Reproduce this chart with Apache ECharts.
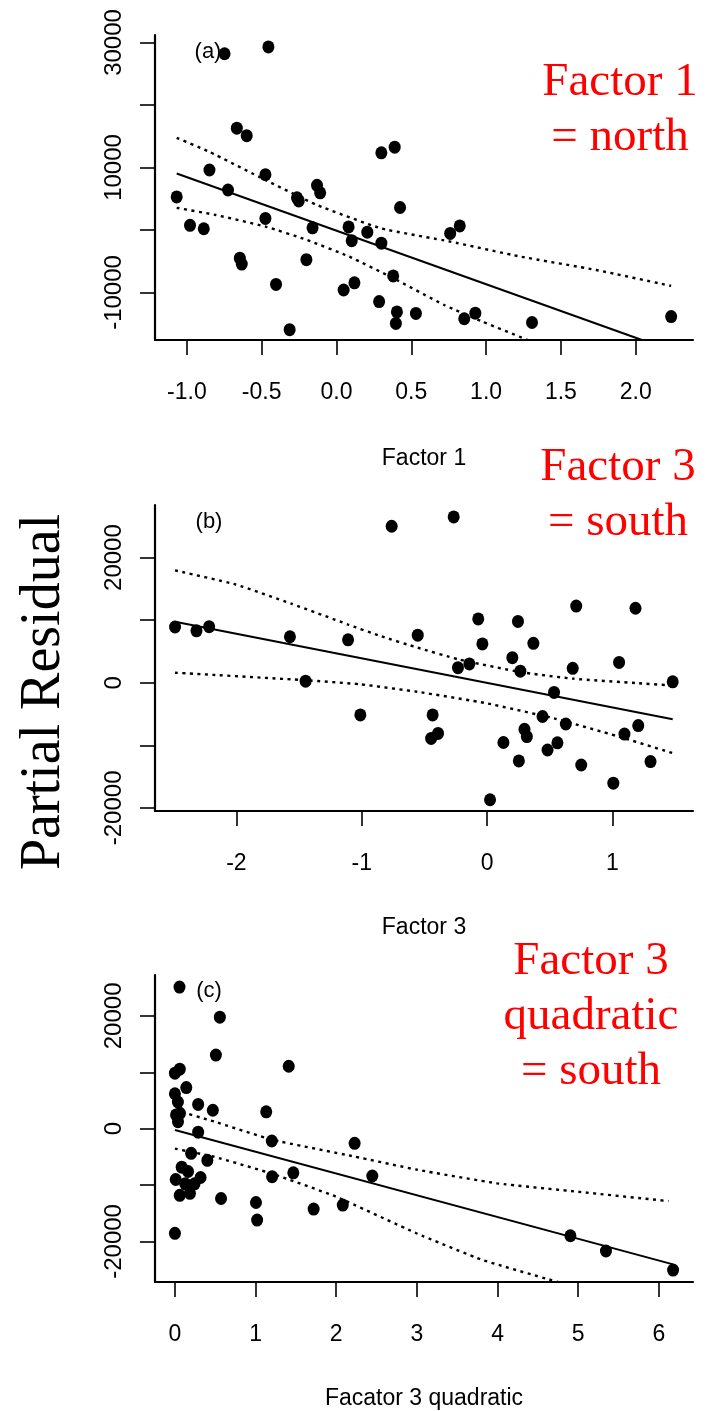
<!DOCTYPE html>
<html>
<head>
<meta charset="utf-8">
<script src="https://cdn.jsdelivr.net/npm/echarts@6/dist/echarts.min.js"></script>
<style>
    html, body { margin: 0; padding: 0; background: #fff; }
    #chart { width: 715px; height: 1411px; }
</style>
</head>
<body>
<div id="chart"></div>
<script>
    // (a) Factor 1
    const pointsA = [
        [-0.748, 28200], [-0.455, 29300], [-0.666, 16300], [-0.600, 15100], [0.300, 12350],
        [0.389, 13250], [-0.849, 9600], [-0.475, 8850], [-1.068, 5300], [-0.725, 6400],
        [-0.264, 5150], [-0.252, 4650], [-0.130, 7150], [-0.109, 5950], [0.425, 3600],
        [-0.475, 1850], [-0.979, 750], [-0.887, 200], [-0.160, 350], [0.081, 500],
        [0.102, -1700], [0.206, -350], [0.300, -2100], [0.760, -550], [0.824, 650],
        [-0.646, -4500], [-0.633, -5450], [-0.201, -4750], [-0.404, -8700], [0.048, -9600],
        [0.120, -8450], [0.379, -7350], [0.285, -11450], [0.404, -13100], [0.397, -14950],
        [0.531, -13350], [0.854, -14200], [0.928, -13300], [1.307, -14800], [2.237, -13850],
        [-0.313, -15950]
    ];
    const fitA = [[-1.068, 9050], [2.042, -17600]];
    const upperA = [[-1.068, 14750], [-0.849, 12500], [-0.475, 8000], [-0.130, 4000], [0.300, 250],
        [0.760, -1850], [1.228, -4250], [1.737, -6400], [2.237, -8950]];
    const lowerA = [[-1.068, 3550], [-0.806, 2400], [-0.475, 550], [-0.196, -1600], [0.084, -4250],
        [0.379, -7700], [0.720, -12000], [0.974, -14650], [1.279, -17600]];
    const xRangeA = [-1.213, 2.383];
    const yRangeA = [-17600, 31200];
    const xTicksA = [-1.0, -0.5, 0.0, 0.5, 1.0, 1.5, 2.0];
    const yTicksA = [30000, 20000, 10000, 0, -10000];
    const yLabelsA = [30000, 10000, -10000];

    // (b) Factor 3
    const pointsB = [
        [-2.490, 8900], [-2.319, 8300], [-2.218, 8950], [-1.573, 7350], [-1.448, 250],
        [-1.109, 6850], [-1.011, -5150], [-0.761, 25000], [-0.266, 26500], [-0.553, 7600],
        [-0.434, -5150], [-0.446, -8900], [-0.391, -8100], [-0.232, 2400], [-0.141, 3000],
        [-0.070, 10200], [-0.037, 6200], [0.024, -18700], [0.131, -9550], [0.202, 4000],
        [0.247, 9800], [0.266, 1850], [0.254, -12500], [0.299, -7450], [0.318, -8600],
        [0.370, 6300], [0.443, -5400], [0.483, -10750], [0.535, -1550], [0.562, -9600],
        [0.629, -6600], [0.684, 2300], [0.712, 12250], [0.752, -13150], [1.008, -16050],
        [1.054, 3250], [1.097, -8200], [1.185, 11900], [1.207, -6850], [1.305, -12600],
        [1.482, 150]
    ];
    const fitB = [[-2.490, 9750], [1.482, -5850]];
    const upperB = [[-2.490, 17950], [-2.007, 15700], [-1.564, 12650], [-1.109, 9300], [-0.857, 7500],
        [-0.553, 5600], [-0.232, 3750], [0.266, 1700], [0.684, 650], [1.185, -50], [1.482, -450]];
    const lowerB = [[-2.490, 1600], [-1.448, 400], [-1.014, -250], [-0.556, -1450], [0, -3300],
        [0.535, -5700], [1.033, -8500], [1.482, -11250]];
    const xRangeB = [-2.65, 1.644];
    const yRangeB = [-20500, 28400];
    const xTicksB = [-2, -1, 0, 1];
    const yTicksB = [20000, 10000, 0, -10000, -20000];
    const yLabelsB = [20000, 0, -20000];

    // (c) Factor 3 quadratic
    const pointsC = [
        [0.057, 25100], [0.557, 19770], [0.508, 13050], [1.411, 11070], [0.060, 10540],
        [0.0, 9830], [0.141, 7280], [0.0, 6190], [0.037, 4730], [0.288, 4290],
        [0.470, 3260], [1.132, 2990], [0.014, 2430], [0.062, 2720], [0.038, 1240],
        [0.288, -620], [1.201, -2190], [2.228, -2600], [0.201, -4380], [0.402, -5620],
        [0.084, -6830], [0.163, -7600], [0.010, -9020], [0.318, -8670], [0.128, -9790],
        [0.243, -9790], [0.060, -11830], [0.186, -11470], [1.205, -8520], [1.468, -7830],
        [2.447, -8400], [0.572, -12390], [1.005, -13100], [1.019, -16210], [1.720, -14260],
        [2.081, -13550], [0.0, -18575], [4.903, -19000], [5.344, -21700], [6.176, -25090]
    ];
    const fitC = [[0, -240], [6.176, -24080]];
    const upperC = [[0, 3300], [0.489, 1250], [1.203, -1950], [2.228, -4950], [3.007, -7300],
        [3.995, -9700], [5.002, -11200], [6.119, -12850]];
    const lowerC = [[0, -3550], [0.489, -5000], [1.203, -8000], [1.995, -12050], [2.993, -18550],
        [3.815, -23300], [4.750, -27200]];
    const xRangeC = [-0.247, 6.423];
    const yRangeC = [-27200, 27250];
    const xTicksC = [0, 1, 2, 3, 4, 5, 6];
    const yTicksC = [20000, 10000, 0, -10000, -20000];
    const yLabelsC = [20000, 0, -20000];

    const sansFont = "'Liberation Sans', Arial, sans-serif";
    const serifFont = "'Liberation Serif', 'Times New Roman', serif";

    function xAxis(i, range, ticks, digits, name, nameGap) {
        return {
            type: 'value', gridIndex: i, min: range[0], max: range[1],
            name: name, nameLocation: 'middle', nameGap: nameGap,
            nameTextStyle: { fontFamily: sansFont, fontSize: 23, color: '#000' },
            splitLine: { show: false },
            axisLine: { onZero: false, lineStyle: { color: '#000', width: 2.2 } },
            axisTick: { customValues: ticks, length: 15, lineStyle: { color: '#000', width: 1.6 } },
            axisLabel: {
                customValues: ticks, margin: 41, fontFamily: sansFont, fontSize: 23, color: '#000',
                formatter: v => v.toFixed(digits)
            }
        };
    }

    function yAxis(i, range, ticks, labels) {
        return {
            type: 'value', gridIndex: i, min: range[0], max: range[1],
            splitLine: { show: false },
            axisLine: { onZero: false, lineStyle: { color: '#000', width: 2.2 } },
            axisTick: { customValues: ticks, length: 15, lineStyle: { color: '#000', width: 1.6 } },
            axisLabel: {
                customValues: labels, rotate: 90, margin: 29, fontFamily: sansFont, fontSize: 24, color: '#000',
                formatter: v => String(v)
            }
        };
    }

    function dots(i, data) {
        return {
            type: 'scatter', xAxisIndex: i, yAxisIndex: i, data: data,
            symbol: 'circle', symbolSize: [12, 13], itemStyle: { color: '#000', opacity: 1 }, z: 4
        };
    }

    function line(i, data, dotted) {
        return {
            type: 'line', xAxisIndex: i, yAxisIndex: i, data: data, clip: true,
            showSymbol: false, smooth: dotted ? 0.15 : false, z: 3,
            lineStyle: dotted ? { color: '#000', width: 2.4, type: [3, 4.5] } : { color: '#000', width: 2 }
        };
    }

    function redText(x, y, text) {
        return {
            type: 'text', x: x, y: y,
            style: {
                text: text, fontFamily: serifFont, fontSize: 47, lineHeight: 55, fill: '#ff0000',
                align: 'center', verticalAlign: 'middle'
            }
        };
    }

    function panelTag(x, y, text) {
        return {
            type: 'text', x: x, y: y,
            style: { text: text, fontFamily: sansFont, fontSize: 22, fill: '#000', align: 'center', verticalAlign: 'middle' }
        };
    }

    const chart = echarts.init(document.getElementById('chart'), null, { renderer: 'canvas' });
    chart.setOption({
        backgroundColor: '#fff',
        animation: false,
        grid: [
            { left: 155, top: 35, width: 538, height: 305, outerBoundsMode: 'none' },
            { left: 155, top: 505, width: 538, height: 306, outerBoundsMode: 'none' },
            { left: 155, top: 975, width: 538, height: 307, outerBoundsMode: 'none' }
        ],
        xAxis: [
            xAxis(0, xRangeA, xTicksA, 1, 'Factor 1', 107),
            xAxis(1, xRangeB, xTicksB, 0, 'Factor 3', 105),
            xAxis(2, xRangeC, xTicksC, 0, 'Facator 3 quadratic', 105)
        ],
        yAxis: [
            yAxis(0, yRangeA, yTicksA, yLabelsA),
            yAxis(1, yRangeB, yTicksB, yLabelsB),
            yAxis(2, yRangeC, yTicksC, yLabelsC)
        ],
        series: [
            dots(0, pointsA), line(0, fitA, false), line(0, upperA, true), line(0, lowerA, true),
            dots(1, pointsB), line(1, fitB, false), line(1, upperB, true), line(1, lowerB, true),
            dots(2, pointsC), line(2, fitC, false), line(2, upperC, true), line(2, lowerC, true)
        ],
        graphic: [
            {
                type: 'text', x: 44, y: 692, rotation: Math.PI / 2,
                style: { text: 'Partial Residual', fontFamily: serifFont, fontSize: 56, fill: '#000', align: 'center', verticalAlign: 'middle' }
            },
            redText(620, 110, 'Factor 1\n= north'),
            redText(618, 495, 'Factor 3\n= south'),
            redText(591, 1017, 'Factor 3\nquadratic\n= south'),
            panelTag(208, 52, '(a)'),
            panelTag(209, 522, '(b)'),
            panelTag(209, 991, '(c)')
        ]
    });
</script>
</body>
</html>
